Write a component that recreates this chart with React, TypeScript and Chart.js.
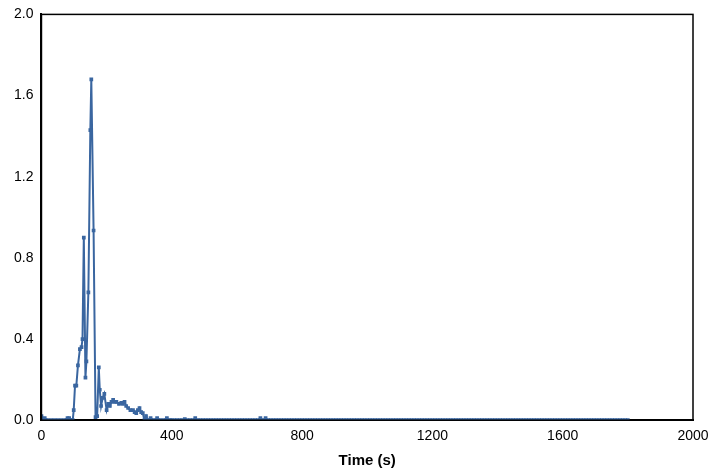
import React, { useEffect, useRef } from 'react';
import { Chart, registerables } from 'chart.js';

Chart.register(...registerables);

const peakTimes = [0, 5, 10, 20, 30, 40, 50, 60, 70, 80, 85, 90, 96, 99, 103, 107, 112, 118, 123, 126, 130, 135, 138, 144, 150, 153, 160, 166, 171, 176, 179, 183, 188, 193, 200, 205, 210, 215, 220, 225, 230, 238, 245, 250, 255, 260, 266, 273, 281, 286, 291, 296, 301, 306, 311, 316, 321, 326, 335, 345, 355, 365, 375, 385, 395];
const peakValues = [0.02, 0.0, 0.01, 0.0, 0.0, 0.0, 0.0, 0.0, 0.0, 0.01, 0.01, 0.0, 0.0, 0.05, 0.17, 0.17, 0.27, 0.35, 0.36, 0.40, 0.90, 0.21, 0.29, 0.63, 1.43, 1.68, 0.935, 0.015, 0.02, 0.26, 0.15, 0.07, 0.11, 0.13, 0.05, 0.08, 0.07, 0.09, 0.10, 0.09, 0.09, 0.08, 0.085, 0.08, 0.09, 0.07, 0.06, 0.05, 0.05, 0.04, 0.035, 0.05, 0.06, 0.04, 0.035, 0.0, 0.02, 0.0, 0.01, 0.0, 0.01, 0.0, 0.0, 0.01, 0.0];
const bumpTimes = [420, 440, 470, 670, 690];
const bumpValues = [0.01, 0.005, 0.01, 0.01, 0.01];
const tailStart = 400;
const tailEnd = 1800;
const tailStep = 8;

export default function App() {
  const ref = useRef<HTMLCanvasElement>(null);

  useEffect(() => {
    const points = peakTimes.map((t, i) => ({ x: t, y: peakValues[i] }));
    for (let t = tailStart; t <= tailEnd; t += tailStep) {
      const b = bumpTimes.findIndex((bt) => Math.abs(bt - t) < tailStep / 2);
      points.push({ x: t, y: b >= 0 ? bumpValues[b] : 0 });
    }
    const chart = new Chart(ref.current!, {
      type: 'scatter',
      data: {
        datasets: [
          {
            data: points,
            showLine: true,
            borderColor: '#3a66a0',
            backgroundColor: '#3a66a0',
            borderWidth: 2,
            pointRadius: 1.2,
            pointStyle: 'rect',
          },
        ],
      },
      options: {
        animation: false,
        responsive: false,
        layout: { padding: { left: 11, right: 35, top: 0, bottom: 2 } },
        plugins: { legend: { display: false }, tooltip: { enabled: false } },
        scales: {
          x: {
            min: 0,
            max: 2000,
            grid: { display: false, tickLength: 5, color: '#000' },
            border: { color: '#000', width: 2 },
            ticks: { stepSize: 400, color: '#000', font: { family: 'Liberation Sans', size: 14 }, maxRotation: 0, callback: (v) => String(v) },
            title: { display: true, text: 'Time (s)', color: '#000', font: { family: 'Liberation Sans', size: 15, weight: 'bold' }, padding: { top: 4, bottom: 0 } },
          },
          y: {
            min: 0,
            max: 2,
            grid: { display: false, tickLength: 5, color: '#000' },
            border: { color: '#000', width: 2 },
            ticks: { stepSize: 0.4, color: '#000', font: { family: 'Liberation Sans', size: 14 }, callback: (v) => Number(v).toFixed(1) },
          },
        },
      },
      plugins: [
        {
          id: 'frame',
          afterDraw(c) {
            const { left, right, top, bottom } = c.chartArea;
            const ctx = c.ctx;
            ctx.save();
            ctx.strokeStyle = '#000';
            ctx.lineWidth = 1.5;
            ctx.strokeRect(left, top, right - left, bottom - top);
            ctx.restore();
          },
        },
      ],
    });
    return () => chart.destroy();
  }, []);

  return (
    <div style={{ position: 'absolute', left: 0, top: 3 }}>
      <canvas ref={ref} width={728} height={469} style={{ display: 'block' }} />
    </div>
  );
}
